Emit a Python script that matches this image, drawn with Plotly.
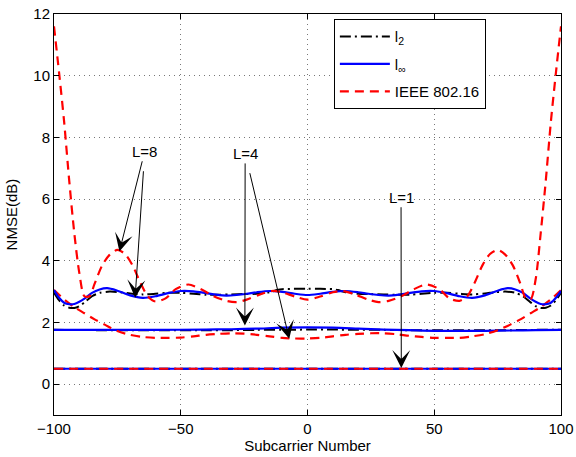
import plotly.graph_objects as go

# ---------------- data ----------------
# L = 8
x_ieee_8 = [-100, -98, -96, -94, -92, -90, -88, -86, -84, -81, -78, -75, -72, -69, -66, -63, -60, -56, -52,
            -47, -42, -37, -32, -28, -24, -19, -14, -10, -5, 0, 5, 10, 14, 19, 24, 28, 32, 37, 42, 47,
            52, 56, 60, 63, 66, 69, 72, 75, 78, 81, 84, 86, 88, 90, 92, 94, 96, 98, 100]
y_ieee_8 = [11.6, 10.1, 8.5, 6.6, 4.9, 3.6, 2.85, 2.85, 3.25, 3.85, 4.2, 4.35, 4.22, 3.85, 3.3, 2.85, 2.68,
            2.78, 3.08, 3.23, 3.08, 2.85, 2.7, 2.66, 2.74, 2.9, 3.02, 2.98, 2.84, 2.74, 2.84, 2.98, 3.02,
            2.9, 2.74, 2.66, 2.7, 2.85, 3.08, 3.23, 3.08, 2.78, 2.7, 2.85, 3.3, 3.85, 4.22, 4.35, 4.2,
            3.85, 3.25, 2.8, 2.75, 3.4, 4.9, 6.6, 8.5, 10.1, 11.6]

x_linf_8 = [-100, -98, -96, -94, -92, -90, -88, -85, -82, -79, -75, -70, -65, -60, -55, -50, -45, -40, -36,
            -32, -28, -24, -20, -15, -10, -5, 0, 5, 10, 15, 20, 24, 28, 32, 36, 40, 45, 50, 55, 60, 65,
            70, 75, 79, 82, 85, 88, 90, 92, 94, 96, 98, 100]
y_linf_8 = [3.05, 2.8, 2.64, 2.59, 2.6, 2.67, 2.77, 2.96, 3.07, 3.11, 3.03, 2.88, 2.8, 2.85, 2.95, 3.02,
            3.01, 2.95, 2.9, 2.87, 2.89, 2.93, 2.98, 3.02, 2.99, 2.93, 2.89, 2.93, 2.99, 3.02, 2.98, 2.93,
            2.89, 2.87, 2.9, 2.95, 3.01, 3.02, 2.95, 2.85, 2.8, 2.88, 3.03, 3.11, 3.07, 2.96, 2.77, 2.67,
            2.6, 2.59, 2.64, 2.8, 3.02]

x_l2_8 = [-100, -98, -96, -94, -92, -90, -88, -85, -82, -78, -74, -70, -65, -60, -55, -50, -45, -40, -35,
          -30, -25, -20, -15, -12, -10, -5, 0, 5, 10, 12, 15, 20, 25, 30, 35, 40, 45, 50, 55, 60, 65,
          70, 74, 78, 82, 85, 88, 90, 92, 94, 96, 98, 100]
y_l2_8 = [2.97, 2.72, 2.55, 2.48, 2.47, 2.53, 2.65, 2.85, 2.96, 3.0, 2.98, 2.94, 2.91, 2.93, 2.96, 2.96,
          2.93, 2.9, 2.9, 2.91, 2.92, 2.93, 2.98, 3.05, 3.08, 3.09, 3.09, 3.09, 3.08, 3.05, 2.98, 2.93,
          2.92, 2.91, 2.9, 2.9, 2.93, 2.96, 2.96, 2.93, 2.91, 2.94, 2.98, 3.0, 2.96, 2.85, 2.65, 2.53,
          2.47, 2.48, 2.55, 2.72, 2.97]

# L = 4
x_l4 = [-100, -80, -60, -40, -30, -20, -10, 0, 10, 20, 30, 40, 50, 60, 70, 80, 90, 100]
y_linf_4 = [1.76, 1.76, 1.76, 1.77, 1.78, 1.8, 1.83, 1.84, 1.83, 1.8, 1.77, 1.75, 1.73, 1.73, 1.73, 1.74,
            1.75, 1.76]
y_l2_4 = [1.76, 1.75, 1.75, 1.75, 1.75, 1.76, 1.76, 1.77, 1.77, 1.76, 1.76, 1.75, 1.75, 1.75, 1.75, 1.75,
          1.76, 1.76]
x_ieee_4 = [-100, -96, -92, -88, -84, -80, -75, -70, -65, -60, -55, -50, -45, -40, -35, -30, -25, -20, -15,
            -10, -5, 0, 5, 10, 15, 20, 25, 30, 35, 40, 45, 50, 55, 60, 65, 70, 75, 80, 84, 88, 92, 96, 100]
y_ieee_4 = [3.05, 2.75, 2.5, 2.3, 2.1, 1.93, 1.72, 1.6, 1.53, 1.5, 1.5, 1.51, 1.55, 1.6, 1.63, 1.65, 1.64,
            1.6, 1.55, 1.5, 1.48, 1.48, 1.5, 1.55, 1.6, 1.63, 1.65, 1.65, 1.62, 1.57, 1.53, 1.5, 1.5, 1.5,
            1.55, 1.62, 1.75, 1.93, 2.1, 2.3, 2.5, 2.75, 3.05]

# L = 1
x_l1 = [-100, -50, 0, 50, 100]
y_l2_1 = [0.5, 0.5, 0.5, 0.5, 0.5]
y_linf_1 = [0.5, 0.5, 0.5, 0.5, 0.5]
y_ieee_1 = [0.5, 0.5, 0.5, 0.5, 0.5]

series_names = ["l<sub>2</sub>", "l<sub>∞</sub>", "IEEE 802.16"]

# labelled arrows: (label, label x, label y, [(head x, head y), ...])
callouts = [
    ("L=8", -64.2, 7.55, [(-74.2, 4.3), (-68.0, 2.8)]),
    ("L=4", -24.6, 7.48, [(-24.7, 1.9), (-7.2, 1.47)]),
    ("L=1", 36.9, 6.06, [(37.0, 0.52)]),
]

# ---------------- figure ----------------
FONT = "Liberation Sans, Arial, Helvetica, sans-serif"
styles = [
    dict(color="#000000", width=2, dash="11px,4px,2px,4px"),
    dict(color="#0000FF", width=2.2, dash="solid"),
    dict(color="#FF0000", width=2.2, dash="9px,6px"),
]

groups = [
    (x_l1, y_l2_1, x_l1, y_linf_1, x_l1, y_ieee_1),
    (x_l4, y_l2_4, x_l4, y_linf_4, x_ieee_4, y_ieee_4),
    (x_l2_8, y_l2_8, x_linf_8, y_linf_8, x_ieee_8, y_ieee_8),
]

fig = go.Figure()
for gi, g in enumerate(groups):
    for k in range(3):
        fig.add_trace(go.Scatter(
            x=g[2 * k], y=g[2 * k + 1], mode="lines",
            name=series_names[k], legendgroup=series_names[k],
            showlegend=(gi == 0),
            line=dict(shape="spline", smoothing=0.8, **styles[k]),
        ))

annotations = []
for label, lx, ly, heads in callouts:
    for i, (hx, hy) in enumerate(heads):
        annotations.append(dict(
            x=hx, y=hy, ax=lx, ay=ly, xref="x", yref="y", axref="x", ayref="y",
            text=label if i == 0 else " ", showarrow=True, arrowhead=3, arrowsize=3,
            arrowwidth=1, arrowcolor="black", standoff=0, startstandoff=0 if i == 0 else 10,
            font=dict(family=FONT, size=15, color="black")))
# y-axis title placed like the reference
annotations.append(dict(x=-0.083, y=0.5, xref="paper", yref="paper", text="NMSE(dB)",
                        textangle=-90, showarrow=False, xanchor="center", yanchor="middle",
                        font=dict(family=FONT, size=15, color="black")))

axis_common = dict(showline=True, linecolor="black", linewidth=1, mirror="ticks",
                   ticks="inside", ticklen=5, tickcolor="black", showgrid=True,
                   gridcolor="#777777", gridwidth=1, griddash="1px,4px", zeroline=False,
                   automargin=False, ticklabeloverflow="allow",
                   tickfont=dict(family=FONT, size=15, color="black"))

fig.update_layout(
    width=576, height=457,
    margin=dict(l=54, r=15, t=14, b=42, autoexpand=False),
    paper_bgcolor="white", plot_bgcolor="white",
    font=dict(family=FONT, size=15, color="black"),
    xaxis=dict(range=[-100, 100], tickvals=[-100, -50, 0, 50, 100],
               title=dict(text="Subcarrier Number", font=dict(family=FONT, size=15), standoff=0),
               **axis_common),
    yaxis=dict(range=[-1, 12], tickvals=[0, 2, 4, 6, 8, 10, 12], **axis_common),
    legend=dict(x=0.552, y=0.987, xanchor="left", yanchor="top", bgcolor="white",
                bordercolor="black", borderwidth=1, font=dict(family=FONT, size=15),
                tracegroupgap=5, itemwidth=50),
    annotations=annotations,
    showlegend=True,
)

# remove the browser's default body margin so the 576x457 figure fills the window exactly
fig.write_html("out.html", config={"displayModeBar": False},
               post_script="document.body.style.margin='0px';")
